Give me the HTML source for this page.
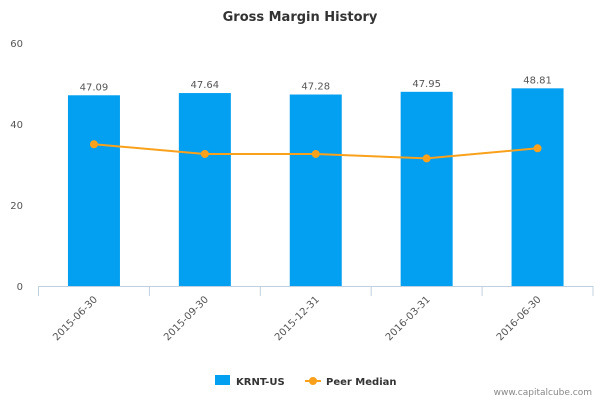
<!DOCTYPE html>
<html><head><meta charset="utf-8"><style>
body{margin:0;background:#fff;font-family:"Liberation Sans","DejaVu Sans",sans-serif}
svg text{font-family:"DejaVu Sans","Liberation Sans",sans-serif}
</style></head><body>
<svg width="600" height="400" xmlns="http://www.w3.org/2000/svg">
<text x="300" y="21" text-anchor="middle" font-size="13" font-weight="bold" fill="#333">Gross Margin History</text>
<g id="plot"></g>
<g>
<rect x="215" y="375" width="15" height="10" fill="#039ff0"/>
<text x="236" y="385" font-size="10" font-weight="bold" fill="#333">KRNT-US</text>
<line x1="305" y1="381" x2="321" y2="381" stroke="#f9a11b" stroke-width="2"/>
<circle cx="313" cy="381" r="4" fill="#f9a11b"/>
<text x="326" y="385" font-size="10" font-weight="bold" fill="#333">Peer Median</text>
</g>
<text x="592" y="395" text-anchor="end" font-size="9" fill="#888">www.capitalcube.com</text>
</svg>
<script>
const categories=["2015-06-30","2015-09-30","2015-12-31","2016-03-31","2016-06-30"];
const barValues=[47.09,47.64,47.28,47.95,48.81];
const peerValues=[35.0,32.6,32.6,31.5,34.0];
const yTicks=[0,20,40,60];
const NS="http://www.w3.org/2000/svg";
const g=document.getElementById('plot');
const x0=38.5,x1=593,y0=286,y1=43,yMax=60;
const bw=(x1-x0)/categories.length;
const X=i=>x0+bw*(i+0.5);
const Y=v=>y0-(v/yMax)*(y0-y1);
function mk(t,a){const e=document.createElementNS(NS,t);for(const k in a)e.setAttribute(k,a[k]);g.appendChild(e);return e;}
yTicks.forEach(t=>{
 const e=mk('text',{x:23,y:Y(t)+4,'text-anchor':'end','font-size':10,fill:'#555'});
 
 
 e.textContent=t;
});
barValues.forEach((v,i)=>{
 const r=mk('rect',{x:X(i)-26,y:Y(v),width:52,height:y0-Y(v),fill:'#039ff0'});
 
 
 const t=mk('text',{x:X(i),y:Y(v)-5,'text-anchor':'middle','font-size':10,fill:'#555'});
 
 
 t.textContent=v.toFixed(2);
});
const ax=mk('line',{x1:x0,y1:y0+0.5,x2:x1,y2:y0+0.5,stroke:'#c0d0e0','stroke-width':1});


for(let i=0;i<=categories.length;i++){
 const tk=mk('line',{x1:x0+bw*i,y1:y0,x2:x0+bw*i,y2:y0+10,stroke:'#c0d0e0'});
 
 
}
categories.forEach((c,i)=>{
 const t=mk('text',{x:X(i)+4,y:y0+14,'text-anchor':'end','font-size':10,fill:'#555',transform:`rotate(-45 ${X(i)+4} ${y0+14})`});
 
 
 t.textContent=c;
});
const pl=mk('polyline',{points:peerValues.map((v,i)=>X(i)+','+Y(v)).join(' '),fill:'none',stroke:'#f9a11b','stroke-width':2});


peerValues.forEach((v,i)=>{
 const c=mk('circle',{cx:X(i),cy:Y(v),r:4,fill:'#f9a11b'});
 
 
});
</script>
</body></html>
